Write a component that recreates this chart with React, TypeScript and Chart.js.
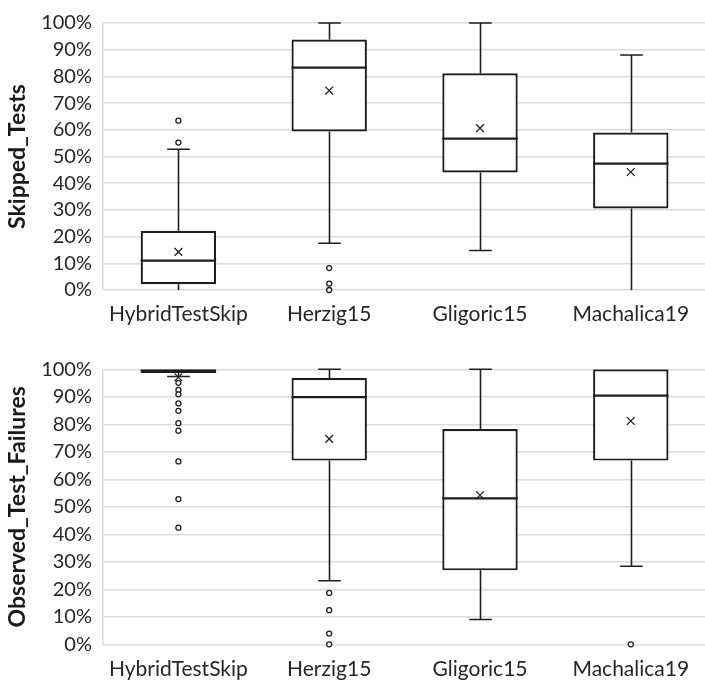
import React, { useEffect, useRef } from "react";
import { Chart, registerables } from "chart.js";

Chart.register(...registerables);

const categories = ["HybridTestSkip", "Herzig15", "Gligoric15", "Machalica19"];
const yTicks = [0, 10, 20, 30, 40, 50, 60, 70, 80, 90, 100];

// Skipped_Tests (percent)
const skipMin = [0, 17.5, 14.8, 0];
const skipQ1 = [2.2, 59.4, 44.0, 30.5];
const skipMedian = [11.0, 83.3, 56.7, 47.3];
const skipQ3 = [22.2, 93.8, 81.2, 59.0];
const skipMax = [52.7, 100, 100, 88.0];
const skipMean = [14.3, 74.7, 60.6, 44.2];
const skipOutliers = [
  [63.4, 55.2],
  [8.2, 2.4, 0],
  [],
  [],
];

// Observed_Test_Failures (percent)
const failMin = [97.4, 23.1, 9.0, 28.4];
const failQ1 = [98.7, 66.8, 26.9, 66.8];
const failMedian = [99.4, 89.9, 53.1, 90.4];
const failQ3 = [100, 96.8, 78.3, 100];
const failMax = [100, 100, 100, 100];
const failMean = [97.1, 74.7, 54.2, 81.2];
const failOutliers = [
  [95.1, 92.5, 90.9, 87.6, 84.9, 80.4, 77.7, 66.5, 52.8, 42.4],
  [18.7, 12.4, 3.9, 0],
  [],
  [0],
];

const FONT = "Lato, 'Open Sans', sans-serif";
const INK = "#1e1e1e";

type BoxData = {
  min: number[];
  q1: number[];
  median: number[];
  q3: number[];
  max: number[];
  mean: number[];
  outliers: number[][];
  title: string;
  xHeight: number;
  padTop: number;
};

function makeChart(canvas: HTMLCanvasElement, d: BoxData) {
  const whiskerPlugin = {
    id: "whiskers",
    beforeDatasetsDraw(chart: any) {
      const { ctx, chartArea, scales } = chart;
      const x = scales.x;
      const y = scales.y;
      ctx.save();
      ctx.beginPath();
      ctx.rect(chartArea.left, chartArea.top - 2, chartArea.right - chartArea.left, chartArea.bottom - chartArea.top + 2);
      ctx.clip();
      ctx.strokeStyle = INK;
      ctx.lineWidth = 1.6;
      const step = x.getPixelForValue(1) - x.getPixelForValue(0);
      const capHalf = step * 0.075;
      categories.forEach((_, i) => {
        const cx = Math.round(x.getPixelForValue(i)) + 0.5;
        const yMin = y.getPixelForValue(d.min[i]);
        const yQ1 = y.getPixelForValue(d.q1[i]);
        const yQ3 = y.getPixelForValue(d.q3[i]);
        const yMax = y.getPixelForValue(d.max[i]);
        ctx.beginPath();
        ctx.moveTo(cx, yQ3);
        ctx.lineTo(cx, yMax);
        ctx.moveTo(cx, yQ1);
        ctx.lineTo(cx, yMin);
        if (d.max[i] > d.q3[i]) {
          ctx.moveTo(cx - capHalf, yMax);
          ctx.lineTo(cx + capHalf, yMax);
        }
        if (d.min[i] > 0) {
          ctx.moveTo(cx - capHalf, yMin);
          ctx.lineTo(cx + capHalf, yMin);
        }
        ctx.stroke();
      });
      ctx.restore();
    },
    afterDatasetsDraw(chart: any) {
      const { ctx, scales } = chart;
      const x = scales.x;
      const y = scales.y;
      const step = x.getPixelForValue(1) - x.getPixelForValue(0);
      const half = step * 0.25;
      ctx.save();
      ctx.strokeStyle = INK;
      ctx.lineWidth = 2.2;
      categories.forEach((_, i) => {
        const cx = x.getPixelForValue(i);
        const ym = y.getPixelForValue(d.median[i]);
        ctx.beginPath();
        ctx.moveTo(cx - half, ym);
        ctx.lineTo(cx + half, ym);
        ctx.stroke();
      });
      ctx.restore();
    },
  };

  const outlierPoints: { x: string; y: number }[] = [];
  d.outliers.forEach((list, i) => list.forEach((v) => outlierPoints.push({ x: categories[i], y: v })));

  return new Chart(canvas, {
    type: "bar",
    data: {
      labels: categories,
      datasets: [
        {
          type: "bar",
          data: categories.map((_, i) => [d.q1[i], d.q3[i]]) as any,
          backgroundColor: "#ffffff",
          borderColor: INK,
          borderWidth: 2.2,
          borderSkipped: false,
          barPercentage: 0.5,
          categoryPercentage: 1,
          order: 3,
        },
        {
          type: "line",
          data: categories.map((c, i) => ({ x: c, y: d.mean[i] })) as any,
          showLine: false,
          pointStyle: "crossRot",
          pointRadius: 5.5,
          pointBorderWidth: 1.3,
          pointBorderColor: INK,
          pointBackgroundColor: INK,
          order: 2,
        },
        {
          type: "line",
          data: outlierPoints as any,
          showLine: false,
          pointStyle: "circle",
          pointRadius: 2.5,
          pointBorderWidth: 1.3,
          pointBorderColor: INK,
          pointBackgroundColor: "#ffffff",
          order: 1,
          clip: 4 as any,
        },
      ],
    },
    options: {
      animation: false,
      responsive: false,
      maintainAspectRatio: false,
      events: [],
      layout: { padding: { top: d.padTop, left: 0, right: 0, bottom: 0 } },
      plugins: { legend: { display: false }, tooltip: { enabled: false } },
      scales: {
        x: {
          type: "category",
          offset: true,
          grid: { display: false, drawTicks: false },
          border: { display: false },
          ticks: { color: "#262626", font: { family: FONT, size: 21 }, padding: 12, maxRotation: 0, autoSkip: false },
          afterFit(scale: any) {
            scale.height = d.xHeight;
          },
        },
        y: {
          min: 0,
          max: 100,
          afterBuildTicks(scale: any) {
            scale.ticks = yTicks.map((v) => ({ value: v }));
          },
          grid: { color: "#dcdcdc", lineWidth: 1.5, drawTicks: false },
          border: { display: true, color: "#dcdcdc", width: 1.5 },
          ticks: {
            color: "#262626",
            font: { family: FONT, size: 20 },
            padding: 11,
            autoSkip: false,
            callback: (v: any) => v + "%",
          },
          title: {
            display: true,
            text: d.title,
            color: "#1a1a1a",
            font: { family: FONT, size: 23, weight: "bold" },
            padding: { top: 4, bottom: 0 },
          },
          afterFit(scale: any) {
            scale.width = 103;
          },
        },
      },
    },
    plugins: [whiskerPlugin],
  });
}

export default function App() {
  const topRef = useRef<HTMLCanvasElement>(null);
  const botRef = useRef<HTMLCanvasElement>(null);

  useEffect(() => {
    const c1 = makeChart(topRef.current!, {
      min: skipMin,
      q1: skipQ1,
      median: skipMedian,
      q3: skipQ3,
      max: skipMax,
      mean: skipMean,
      outliers: skipOutliers,
      title: "Skipped_Tests",
      xHeight: 50,
      padTop: 15,
    });
    const c2 = makeChart(botRef.current!, {
      min: failMin,
      q1: failQ1,
      median: failMedian,
      q3: failQ3,
      max: failMax,
      mean: failMean,
      outliers: failOutliers,
      title: "Observed_Test_Failures",
      xHeight: 40.7,
      padTop: 29.3,
    });
    return () => {
      c1.destroy();
      c2.destroy();
    };
  }, []);

  return (
    <div style={{ position: "fixed", left: 0, top: 0, width: 713, height: 685, background: "#fff" }}>
      <canvas ref={topRef} width={713} height={340} style={{ display: "block", width: 713, height: 340 }} />
      <canvas ref={botRef} width={713} height={345} style={{ display: "block", width: 713, height: 345 }} />
    </div>
  );
}
